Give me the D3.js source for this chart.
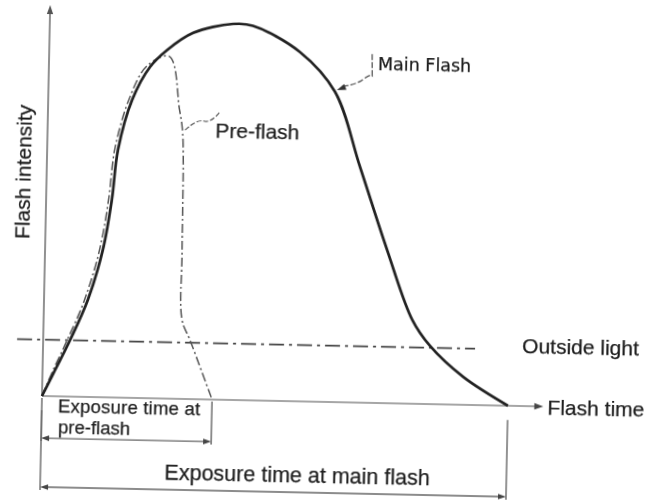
<!DOCTYPE html>
<html>
<head>
<meta charset="utf-8">
<script src="https://cdn.jsdelivr.net/npm/d3@7"></script>
<style>
  html, body { margin: 0; padding: 0; background: #fff; }
  svg { display: block; }
</style>
</head>
<body>
<svg id="chart" width="645" height="500"></svg>
<script>
// values: time in % of main flash duration, intensity in % of peak
const mainTime = [0, 2.7, 5.8, 9.4, 12.4, 14.1, 15.2, 18.0, 21.7, 25.3, 30.8, 39.3, 43.6, 53.8, 61.5, 67.2, 73.4, 79.1, 83.0, 90.3, 100];
const mainIntensity = [0, 7, 15.1, 25.8, 39.2, 52.5, 65.9, 79.2, 88.1, 92.7, 97.4, 100, 99.6, 92.9, 82.5, 62.7, 40.7, 22.3, 15.5, 7.4, 0];

const preTime = [0, 2.3, 5.2, 8.7, 11.7, 13.4, 14.5, 17.3, 21.0, 25.8, 28.2, 29.0, 29.4, 29.7, 31.5, 36.5];
const preIntensity = [0, 7, 15.1, 25.8, 39.2, 52.5, 65.9, 79.2, 88.3, 91.0, 77.0, 70.7, 39.6, 21.0, 15.7, 0];

const outsideLight = 15;
const outsideRange = [-5.6, 92.7];

const preFlashEnd = 36.5;
const mainFlashEnd = 100;

const w = 645;
const h = 500;

const svg = d3.select("#chart");

svg.append("defs")
  .append("filter")
  .attr("id", "scan")
  .append("feGaussianBlur")
  .attr("stdDeviation", 0.4);

const x = d3.scaleLinear().domain([0, 100]).range([0, 466]);
const y = d3.scaleLinear().domain([0, 100]).range([0, -376]);

// the scan is tilted a little, so the whole drawing is turned
const g = svg.append("g")
  .attr("transform", "translate(42,396) rotate(1.2)")
  .attr("filter", "url(#scan)");

const font = "'Liberation Sans', Arial, sans-serif";
const ink = "#1f1f1f";

function arrowHead(px, py, angle, size, color) {
  g.append("path")
    .attr("d", "M0,0 L" + (-size) + "," + (-size * 0.35) + " L" + (-size) + "," + (size * 0.35) + " Z")
    .attr("fill", color)
    .attr("transform", "translate(" + px + "," + py + ") rotate(" + angle + ")");
}

function label(text, tx, ty, size, family) {
  return g.append("text")
    .text(text)
    .attr("x", x(tx))
    .attr("y", y(ty))
    .attr("font-family", family || font)
    .attr("font-size", size + "px")
    .attr("fill", ink)
    .attr("stroke", ink)
    .attr("stroke-width", 0.25);
}

// axes
g.append("line")
  .attr("x1", x(0)).attr("y1", y(0))
  .attr("x2", x(0)).attr("y2", y(103))
  .attr("stroke", "#777").attr("stroke-width", 1.6);
arrowHead(x(0), y(104), -90, 9, "#555");

g.append("line")
  .attr("x1", x(0)).attr("y1", y(0))
  .attr("x2", x(106.5)).attr("y2", y(0))
  .attr("stroke", "#888").attr("stroke-width", 1.5);
arrowHead(x(107.6), y(0), 0, 9, "#444");

// outside light
g.append("line")
  .attr("x1", x(outsideRange[0])).attr("y1", y(outsideLight))
  .attr("x2", x(outsideRange[1])).attr("y2", y(outsideLight))
  .attr("stroke", "#444").attr("stroke-width", 1.6)
  .attr("stroke-dasharray", "15,5,3,5");

// curves
const line = d3.line()
  .x((d) => x(d[0]))
  .y((d) => y(d[1]))
  .curve(d3.curveCatmullRom.alpha(0.5));

g.append("path")
  .datum(d3.zip(preTime, preIntensity))
  .attr("d", line)
  .attr("fill", "none")
  .attr("stroke", "#555")
  .attr("stroke-width", 1.5)
  .attr("stroke-dasharray", "9,3,2,3");

g.append("path")
  .datum(d3.zip(mainTime, mainIntensity))
  .attr("d", line)
  .attr("fill", "none")
  .attr("stroke", "#222")
  .attr("stroke-width", 2.7);

// labels with leaders
g.append("path")
  .attr("d", "M" + x(29.5) + "," + y(71.5) +
    " Q" + x(32) + "," + y(74.5) + " " + x(33.5) + "," + y(74) +
    " T" + x(36.9) + "," + y(76.5))
  .attr("fill", "none").attr("stroke", "#555").attr("stroke-width", 1.2)
  .attr("stroke-dasharray", "5,2");

label("Pre-flash", 36, 69.8, 21);

g.append("path")
  .attr("d", "M" + x(63) + "," + y(84) +
    " Q" + x(66) + "," + y(84.5) + " " + x(67.5) + "," + y(86) +
    " T" + x(69.4) + "," + y(87) +
    " L" + x(69.3) + "," + y(93.1))
  .attr("fill", "none").attr("stroke", "#555").attr("stroke-width", 1.3)
  .attr("stroke-dasharray", "6,2");
arrowHead(x(61.9), y(83), 158, 9, "#333");

label("Main Flash", 70.6, 88.6, 17.5, "'DejaVu Sans', sans-serif");
label("Outside light", 102.8, 14.1, 21);
label("Flash time", 108.5, -2.2, 21);

g.append("text")
  .text("Flash intensity")
  .attr("transform", "translate(" + x(-5.1) + "," + y(59.5) + ") rotate(-90)")
  .attr("text-anchor", "middle")
  .attr("dy", "0.35em")
  .attr("font-family", font)
  .attr("font-size", "21px")
  .attr("fill", ink)
  .attr("stroke", ink)
  .attr("stroke-width", 0.25);

// exposure brackets
function bracket(t0, t1, level, tickTop, color) {
  [t0, t1].forEach((t) => {
    g.append("line")
      .attr("x1", x(t)).attr("y1", y(tickTop))
      .attr("x2", x(t)).attr("y2", y(level - 0.8))
      .attr("stroke", "#666").attr("stroke-width", 1.4);
  });
  g.append("line")
    .attr("x1", x(t0) + 6).attr("y1", y(level))
    .attr("x2", x(t1) - 6).attr("y2", y(level))
    .attr("stroke", "#666").attr("stroke-width", 1.4);
  arrowHead(x(t0), y(level), 180, 8, color);
  arrowHead(x(t1), y(level), 0, 8, color);
}

bracket(0, preFlashEnd, -11.2, -0.5, "#444");
bracket(0, mainFlashEnd, -24.2, -3.8, "#444");

label("Exposure time at", 3.5, -4.2, 18.5).attr("textLength", 142);
label("pre-flash", 3.6, -9.8, 18.5);
label("Exposure time at main flash", 55.1, -21.5, 21.5).attr("text-anchor", "middle");
</script>
</body>
</html>
